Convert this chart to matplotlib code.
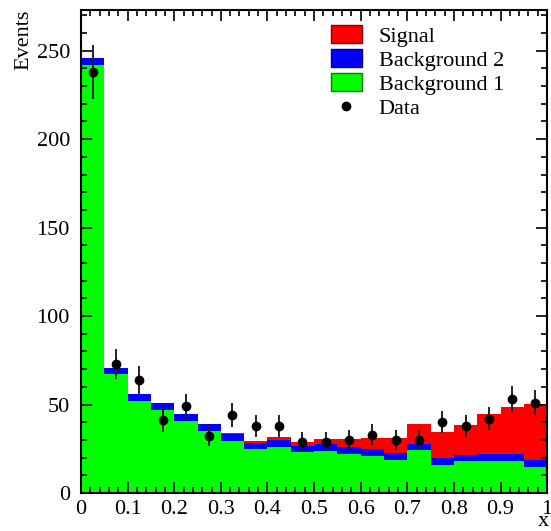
import numpy as np
import matplotlib
matplotlib.use('Agg')
import matplotlib.pyplot as plt
from matplotlib.ticker import MultipleLocator
from matplotlib.patches import Patch
from matplotlib.lines import Line2D

plt.rcParams['font.family'] = ['Liberation Serif', 'DejaVu Serif']
plt.rcParams['font.size'] = 16

# binning 0..1 in 20 bins
edges = np.linspace(0, 1, 21)

# stacked histogram contents
bkg1 = [242, 67, 52.2, 47, 40.7, 35.2, 29.4, 24.7, 25.8, 23,
        23.7, 22.2, 21.1, 18.8, 24.3, 15.8, 18.1, 18.1, 17.9, 14.7]
bkg2 = [3.8, 3.8, 3.7, 3.8, 3.7, 3.6, 3.8, 3.5, 4.3, 3.7,
        4.2, 3.8, 3.9, 3.8, 3.4, 4.0, 3.5, 4.1, 3.9, 3.9]
signal = [0, 0, 0, 0, 0, 0.3, 0.5, 1.0, 1.4, 2.1,
          2.8, 4.3, 6.2, 8.3, 11.3, 14.7, 16.6, 22.2, 26.8, 31.9]
data = [238, 73, 64, 41, 49, 32, 44, 38, 38, 29,
        29, 30, 33, 30, 30, 40, 38, 42, 53, 51]

fig = plt.figure(figsize=(5.51, 5.31), dpi=100)
ax = fig.add_axes([0.147, 0.0716, 0.846, 0.9096])

left = edges[:-1]
w = np.diff(edges)
b1 = np.array(bkg1)
b2 = np.array(bkg2)
sg = np.array(signal)

ax.bar(left, b1, width=w, align='edge', color='#00ff00', linewidth=0)
ax.bar(left, b2, width=w, bottom=b1, align='edge', color='#0000ff', linewidth=0)
ax.bar(left, sg, width=w, bottom=b1 + b2, align='edge', color='#ff0000', linewidth=0)

centers = 0.5 * (edges[:-1] + edges[1:])
d = np.array(data)
ax.errorbar(centers, d, yerr=np.sqrt(d), fmt='o', color='black', ecolor='#222222',
            markersize=6, elinewidth=1.4, capsize=0)

ax.set_xlim(0, 1)
ax.set_ylim(0, 273)
ax.xaxis.set_major_locator(MultipleLocator(0.1))
ax.xaxis.set_minor_locator(MultipleLocator(0.02))
ax.yaxis.set_major_locator(MultipleLocator(50))
ax.yaxis.set_minor_locator(MultipleLocator(10))
ax.set_xticks(np.arange(0, 1.01, 0.1))
ax.set_xticklabels(['0', '0.1', '0.2', '0.3', '0.4', '0.5', '0.6', '0.7', '0.8', '0.9', '1'])
ax.tick_params(which='both', direction='in', top=True, right=True, width=1.2)
ax.tick_params(which='major', length=8, labelsize=16)
ax.tick_params(which='minor', length=4.5)
ax.tick_params(axis='y', which='major', pad=8)
ax.tick_params(axis='x', which='major', pad=5)
for s in ax.spines.values():
    s.set_linewidth(1.5)

ax.set_ylabel('Events', loc='top', fontsize=16, labelpad=2)
# x axis title sits under the last tick label, at the bottom right corner
fig.text(543 / 551, 0.0, 'x', ha='center', va='bottom', fontsize=16)

handles = [Patch(facecolor='#ff0000', edgecolor='#800000'),
           Patch(facecolor='#0000ff', edgecolor='#000080'),
           Patch(facecolor='#00ff00', edgecolor='#008000'),
           Line2D([], [], marker='o', color='black', linestyle='none', markersize=6)]
labels = ['Signal', 'Background 2', 'Background 1', 'Data']
ax.legend(handles, labels, loc='upper left', bbox_to_anchor=(0.536, 0.968), frameon=False,
          handlelength=1.4, handleheight=0.82, labelspacing=0.12, handletextpad=0.75,
          fontsize=16, borderaxespad=0, borderpad=0)

fig.savefig('out.png', dpi=100)
